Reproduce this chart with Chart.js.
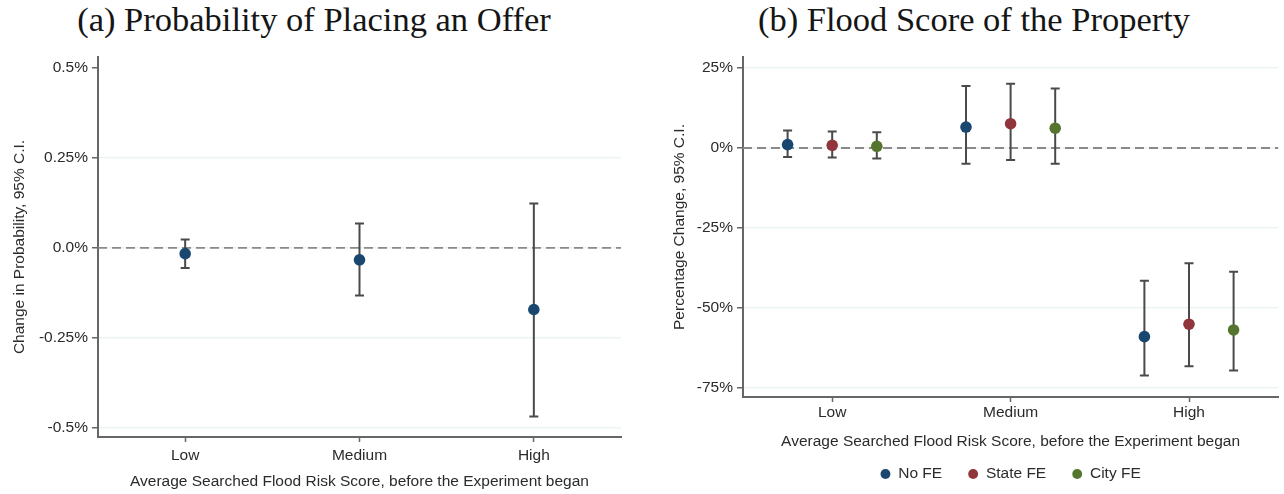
<!DOCTYPE html>
<html>
<head>
<meta charset="utf-8">
<script src="https://cdn.jsdelivr.net/npm/chart.js@4.4.1/dist/chart.umd.min.js"></script>
<style>
  html, body { margin: 0; padding: 0; background: #fff; overflow: hidden; }
  body { width: 1284px; height: 494px; position: relative; }
  .caption { position: absolute; top: 2px; font-family: "Liberation Serif", serif; font-size: 34.5px; line-height: 34.5px; color: #151515; text-align: center; white-space: nowrap; }
  canvas { position: absolute; top: 0; }
</style>
</head>
<body>
<div class="caption" style="left:0; width:628px;">(a) Probability of Placing an Offer</div>
<div class="caption" style="left:640px; width:668px;">(b) Flood Score of the Property</div>
<canvas id="offerChart" width="640" height="494" style="left:0"></canvas>
<canvas id="floodChart" width="644" height="494" style="left:640px"></canvas>
<script>
//categories on the x axis
var riskLevels = ["Low", "Medium", "High"];

//panel (a): change in probability of an offer, in percent
var offerEst = [-0.016, -0.033, -0.171];
var offerLow = [-0.056, -0.132, -0.468];
var offerHigh = [0.023, 0.068, 0.123];
var offerTicks = [-0.5, -0.25, 0, 0.25, 0.5];
var offerTickLabels = ["-0.5%", "-0.25%", "0.0%", "0.25%", "0.5%"];

//panel (b): percentage change in flood score, one list per specification
var feNames = ["No FE", "State FE", "City FE"];
var noFeEst = [1.06, 6.56, -59.1];
var noFeLow = [-2.81, -4.9, -71.3];
var noFeHigh = [5.44, 19.4, -41.6];
var stateFeEst = [0.84, 7.6, -55.2];
var stateFeLow = [-3.0, -3.8, -68.4];
var stateFeHigh = [5.13, 20.1, -36.1];
var cityFeEst = [0.53, 6.2, -57.0];
var cityFeLow = [-3.31, -4.9, -69.7];
var cityFeHigh = [4.9, 18.6, -38.75];
var floodTicks = [-75, -50, -25, 0, 25];
var floodTickLabels = ["-75%", "-50%", "-25%", "0%", "25%"];

//stata-like palette
var colors = ["#1a476f", "#90353b", "#55752f"];
var textColor = "#2b2b2b";
var axisColor = "#666666";
var gridColor = "#edf3f3";
var sansFont = "'Liberation Sans', Arial, sans-serif";
var fontSize = 15.5;

//dashed zero line plus whiskers, drawn under the points
var errorBars = {
    id: "errorBars",
    beforeDatasetsDraw: function(chart){
        var ctx = chart.ctx;
        var area = chart.chartArea;
        var x = chart.scales.x;
        var y = chart.scales.y;

        ctx.save();
        var y0 = y.getPixelForValue(0);
        ctx.strokeStyle = "#8a8a8a";
        ctx.lineWidth = 1.8;
        ctx.setLineDash([9, 5]);
        ctx.beginPath();
        ctx.moveTo(area.left, y0);
        ctx.lineTo(area.right, y0);
        ctx.stroke();
        ctx.setLineDash([]);

        ctx.strokeStyle = "#4a4a4a";
        ctx.lineWidth = 2;
        chart.data.datasets.forEach(function(ds){
            ds.data.forEach(function(p){
                var px = x.getPixelForValue(p.x);
                var top = y.getPixelForValue(p.hi);
                var bot = y.getPixelForValue(p.lo);
                ctx.beginPath();
                ctx.moveTo(px, top);
                ctx.lineTo(px, bot);
                ctx.moveTo(px - 4.5, top);
                ctx.lineTo(px + 4.5, top);
                ctx.moveTo(px - 4.5, bot);
                ctx.lineTo(px + 4.5, bot);
                ctx.stroke();
            });
        });
        ctx.restore();
    }
};

//turn estimate lists into scatter points carrying their interval
function makePoints(est, lo, hi, shift){
    var pts = [];
    for(var i = 0; i < est.length; i++){
        pts.push({x: i + 1 + shift, y: est[i], lo: lo[i], hi: hi[i]});
    }
    return pts;
}

function makeDataset(label, pts, color){
    return {
        label: label,
        data: pts,
        backgroundColor: color,
        borderColor: color,
        pointRadius: 5.8,
        pointBorderWidth: 0,
        pointStyle: "circle",
        showLine: false
    };
}

//shared axis builders
function xAxis(height, tickPad, titlePad){
    return {
        type: "linear",
        min: 0.5,
        max: 3.5,
        afterBuildTicks: function(s){
            s.ticks = riskLevels.map(function(l, i){ return {value: i + 1}; });
        },
        afterFit: function(s){ s.height = height; },
        ticks: {
            color: textColor,
            font: {family: sansFont, size: fontSize},
            padding: tickPad,
            callback: function(v){ return riskLevels[v - 1]; }
        },
        grid: {drawOnChartArea: false, tickLength: 5, tickColor: axisColor, tickWidth: 1.5},
        border: {color: axisColor, width: 2},
        title: {
            display: true,
            text: "Average Searched Flood Risk Score, before the Experiment began",
            color: textColor,
            font: {family: sansFont, size: fontSize},
            padding: {top: 0, bottom: titlePad}
        }
    };
}

function yAxis(min, max, vals, labels, width, title, titlePad, hideTop){
    return {
        type: "linear",
        min: min,
        max: max,
        afterBuildTicks: function(s){
            s.ticks = vals.map(function(v){ return {value: v}; });
        },
        afterFit: function(s){ s.width = width; },
        ticks: {
            color: textColor,
            font: {family: sansFont, size: fontSize},
            padding: 4,
            callback: function(v){ return labels[vals.indexOf(v)]; }
        },
        grid: {
            color: function(c){
                //the top gridline is left out on the probability panel
                if(hideTop && c.tick && c.tick.value === vals[vals.length - 1]) return "rgba(0,0,0,0)";
                return gridColor;
            },
            lineWidth: 1.5,
            tickLength: 6,
            tickColor: axisColor,
            tickWidth: 1.5
        },
        border: {color: axisColor, width: 2},
        title: {
            display: true,
            text: title,
            color: textColor,
            font: {family: sansFont, size: fontSize},
            padding: {top: titlePad, bottom: 0}
        }
    };
}

//panel (a)
new Chart(document.getElementById("offerChart"), {
    type: "scatter",
    data: {
        datasets: [makeDataset("Estimate", makePoints(offerEst, offerLow, offerHigh, 0), colors[0])]
    },
    options: {
        responsive: false,
        animation: false,
        layout: {padding: {top: 57, left: 0, right: 19, bottom: 0}},
        plugins: {legend: {display: false}, tooltip: {enabled: false}},
        scales: {
            x: xAxis(57, 4, 3),
            y: yAxis(-0.525, 0.53, offerTicks, offerTickLabels, 98, "Change in Probability, 95% C.I.", 10, true)
        }
    },
    plugins: [errorBars]
});

//panel (b), three specifications dodged around each category
var dodge = [-0.25, 0, 0.25];
new Chart(document.getElementById("floodChart"), {
    type: "scatter",
    data: {
        datasets: [
            makeDataset(feNames[0], makePoints(noFeEst, noFeLow, noFeHigh, dodge[0]), colors[0]),
            makeDataset(feNames[1], makePoints(stateFeEst, stateFeLow, stateFeHigh, dodge[1]), colors[1]),
            makeDataset(feNames[2], makePoints(cityFeEst, cityFeLow, cityFeHigh, dodge[2]), colors[2])
        ]
    },
    options: {
        responsive: false,
        animation: false,
        layout: {padding: {top: 57, left: 0, right: 4, bottom: 2.25}},
        plugins: {
            tooltip: {enabled: false},
            legend: {
                position: "bottom",
                fullSize: false,
                labels: {
                    usePointStyle: true,
                    boxWidth: 10,
                    boxHeight: 7,
                    padding: 26,
                    color: textColor,
                    font: {family: sansFont, size: fontSize}
                }
            }
        },
        scales: {
            x: xAxis(43.25, 1, -10.75),
            y: yAxis(-78, 28.5, floodTicks, floodTickLabels, 103, "Percentage Change, 95% C.I.", 30, false)
        }
    },
    plugins: [errorBars]
});
</script>
</body>
</html>
